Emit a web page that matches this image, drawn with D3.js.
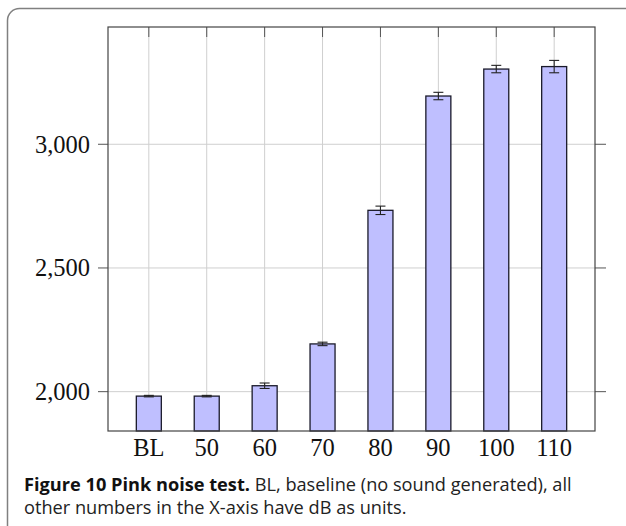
<!DOCTYPE html>
<html>
<head>
<meta charset="utf-8">
<script src="https://cdn.jsdelivr.net/npm/d3@7"></script>
<style>
  html, body { margin: 0; padding: 0; background: #fff; }
</style>
</head>
<body>
<div id="viz"></div>
<script>

// data
var categories = ["BL", "50", "60", "70", "80", "90", "100", "110"];
var values = [1982, 1982, 2024, 2193, 2733, 3195, 3304, 3314];
var errors = [3, 3, 11, 7, 17, 15, 15, 25];
var yTicks = [2000, 2500, 3000];

var width = 626, height = 526;

var plot = { left: 108, right: 595, top: 27, bottom: 431 };

var svg = d3.select("#viz").append("svg")
    .attr("width", width)
    .attr("height", height);

// frame round the figure, only top-left corner shows
svg.append("rect")
    .attr("x", 7.5).attr("y", 8.5)
    .attr("width", 700).attr("height", 600)
    .attr("rx", 12).attr("ry", 12)
    .attr("fill", "none")
    .attr("stroke", "#808080")
    .attr("stroke-width", 1.5);

var x = d3.scalePoint()
    .domain(categories)
    .range([plot.left, plot.right])
    .padding(0.705);

var y = d3.scaleLinear()
    .domain([1841, 3474])
    .range([plot.bottom, plot.top]);

var barWidth = 25;

// grid
var grid = svg.append("g").attr("stroke", "#cfcfcf").attr("stroke-width", 1);

grid.selectAll("line.v")
    .data(categories)
    .enter().append("line")
    .attr("class", "v")
    .attr("x1", function(d){ return x(d); })
    .attr("x2", function(d){ return x(d); })
    .attr("y1", plot.top)
    .attr("y2", plot.bottom);

grid.selectAll("line.h")
    .data(yTicks)
    .enter().append("line")
    .attr("class", "h")
    .attr("x1", plot.left)
    .attr("x2", plot.right)
    .attr("y1", function(d){ return y(d); })
    .attr("y2", function(d){ return y(d); });

// ticks
var ticks = svg.append("g").attr("stroke", "#555").attr("stroke-width", 1);

ticks.selectAll("line.yl")
    .data(yTicks)
    .enter().append("line")
    .attr("x1", plot.left - 10).attr("x2", plot.left)
    .attr("y1", function(d){ return y(d); })
    .attr("y2", function(d){ return y(d); });

ticks.selectAll("line.yr")
    .data(yTicks)
    .enter().append("line")
    .attr("x1", plot.right).attr("x2", plot.right + 11)
    .attr("y1", function(d){ return y(d); })
    .attr("y2", function(d){ return y(d); });

ticks.selectAll("line.xt")
    .data(categories)
    .enter().append("line")
    .attr("x1", function(d){ return x(d); })
    .attr("x2", function(d){ return x(d); })
    .attr("y1", plot.top)
    .attr("y2", plot.top + 10);

// bars
svg.selectAll("rect.bar")
    .data(values)
    .enter().append("rect")
    .attr("class", "bar")
    .attr("x", function(d, i){ return x(categories[i]) - barWidth / 2; })
    .attr("y", function(d){ return y(d); })
    .attr("width", barWidth)
    .attr("height", function(d){ return plot.bottom - y(d); })
    .attr("fill", "#bfbfff")
    .attr("stroke", "#1a1a2a")
    .attr("stroke-width", 1.3);

// error bars
var err = svg.append("g").attr("stroke", "#222").attr("stroke-width", 1.1);
var capW = 5;

values.forEach(function(v, i){
    var cx = x(categories[i]);
    var lo = y(v - errors[i]), hi = y(v + errors[i]);
    err.append("line").attr("x1", cx).attr("x2", cx).attr("y1", lo).attr("y2", hi);
    err.append("line").attr("x1", cx - capW).attr("x2", cx + capW).attr("y1", lo).attr("y2", lo);
    err.append("line").attr("x1", cx - capW).attr("x2", cx + capW).attr("y1", hi).attr("y2", hi);
});

// axis box
svg.append("rect")
    .attr("x", plot.left).attr("y", plot.top)
    .attr("width", plot.right - plot.left)
    .attr("height", plot.bottom - plot.top)
    .attr("fill", "none")
    .attr("stroke", "#444")
    .attr("stroke-width", 1.2);

// tick labels
var fmt = d3.format(",");
var serif = "'Liberation Serif', 'DejaVu Serif', serif";

svg.selectAll("text.ylab")
    .data(yTicks)
    .enter().append("text")
    .attr("x", plot.left - 18)
    .attr("y", function(d){ return y(d); })
    .attr("dy", "0.34em")
    .attr("text-anchor", "end")
    .style("font-family", serif)
    .style("font-size", "24.5px")
    .attr("fill", "#111")
    .text(function(d){ return fmt(d); });

svg.selectAll("text.xlab")
    .data(categories)
    .enter().append("text")
    .attr("x", function(d){ return x(d); })
    .attr("y", 456)
    .attr("text-anchor", "middle")
    .style("font-family", serif)
    .style("font-size", "24.5px")
    .attr("fill", "#111")
    .text(function(d){ return d; });

// caption
var cap = svg.append("g")
    .style("font-family", "'Open Sans', 'Noto Sans', sans-serif")
    .style("font-size", "18.2px")
    .attr("fill", "#222");

var line1 = cap.append("text").attr("x", 24).attr("y", 491);
line1.append("tspan").style("font-weight", "bold").attr("fill", "#111").text("Figure 10 Pink noise test.");
line1.append("tspan").text(" BL, baseline (no sound generated), all");

cap.append("text").attr("x", 24).attr("y", 514)
    .text("other numbers in the X-axis have dB as units.");

</script>
</body>
</html>
